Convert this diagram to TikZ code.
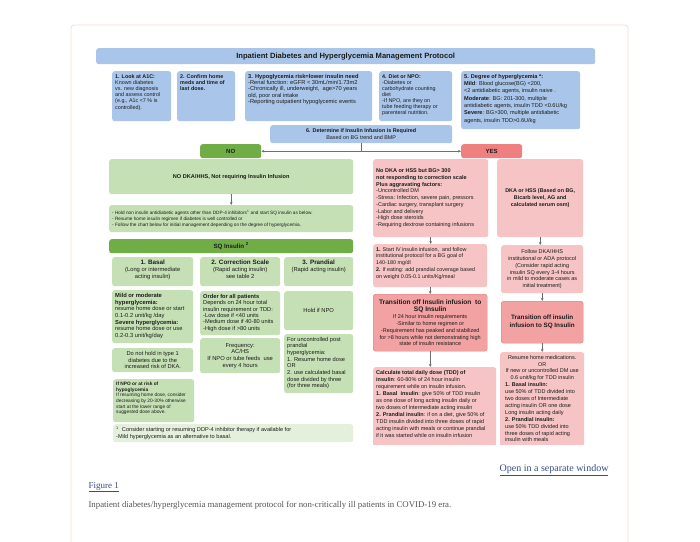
\documentclass[tikz,border=0pt]{standalone}
\usepackage{fontspec}
\setmainfont{Liberation Sans}
\newfontfamily\capfont{Liberation Serif}
\usetikzlibrary{arrows.meta}
\definecolor{myblue}{HTML}{A9C5E9}
\definecolor{lgreen}{HTML}{C5E0B4}
\definecolor{dgreen}{HTML}{70AD47}
\definecolor{fgreen}{HTML}{E4F0DB}
\definecolor{lpink}{HTML}{F6C4C4}
\definecolor{mpink}{HTML}{F2A2A2}
\definecolor{mpinkb}{HTML}{E27C7C}
\definecolor{yescol}{HTML}{EF8080}
\definecolor{arrcol}{HTML}{6F6F6F}
\definecolor{txtcol}{HTML}{1C1C1C}
\definecolor{framecol}{HTML}{F1DDD3}
\definecolor{linkcol}{HTML}{3A4A8A}
\definecolor{capcol}{HTML}{555555}
\newcommand\inbox[4]{\begin{minipage}[c][#2pt][#3]{#1pt}#4\end{minipage}}
\newcommand\fs[2]{\fontsize{#1}{#2}\selectfont}
\begin{document}
\begin{tikzpicture}[x=1pt,y=-1pt,
  basebox/.style={rounded corners=2.5pt, inner xsep=3pt, inner ysep=3pt, anchor=north west, text=txtcol},
  bluebox/.style={basebox, fill=myblue},
  greenbox/.style={basebox, fill=lgreen},
  darkgreen/.style={basebox, fill=dgreen},
  footbox/.style={basebox, fill=fgreen},
  pinkbox/.style={basebox, fill=lpink},
  pinkdark/.style={basebox, fill=mpink, draw=mpinkb, line width=0.4pt},
  yesbox/.style={basebox, fill=yescol},
  conn/.style={draw=arrcol, line width=0.5pt, -{Stealth[length=3pt,width=2.6pt]}}
]
\useasboundingbox (0,0) rectangle (700,541);
\fill[white] (0,0) rectangle (700,541);
\draw[framecol, line width=0.8pt, rounded corners=3pt] (71,545) -- (71,25) -- (628,25) -- (628,545);

\begin{scope}
\clip (80,30) rectangle (620,444);
% title
\node[bluebox] (title) at (96,48) {\inbox{493}{10}{c}{\centering\fs{7.6}{8.5}\bfseries Inpatient Diabetes and Hyperglycemia Management Protocol}};
% row 1
\node[bluebox] (b1) at (112,71) {\inbox{53}{44}{t}{\raggedright\fs{5.4}{6.2}\textbf{1. Look at A1C:}\\Known diabetes\\vs. new diagnosis\\and assess control\\(e.g., A1c <7 \% is\\controlled).}};
\node[bluebox] (b2) at (177,71) {\inbox{52}{44}{t}{\raggedright\fs{5.4}{6.2}\bfseries 2. Confirm home\\meds and time of\\last dose.}};
\node[bluebox] (b3) at (245,71) {\inbox{121}{44}{t}{\raggedright\fs{5.7}{6.3}\textbf{3. Hypoglycemia risk=lower insulin need}\\-Renal function: eGFR < 30mL/min/1.73m2\\-Chronically ill, underweight,\ \ age>70 years\\old, poor oral intake\\-Reporting outpatient hypoglycemic events}};
\node[bluebox] (b4) at (379,71) {\inbox{67}{44}{t}{\raggedright\fs{5.4}{6.1}\textbf{4. Diet or NPO:}\\-Diabetes or\\carbohydrate counting\\diet\\-If NPO, are they on\\tube feeding therapy or\\parenteral nutrition.}};
\node[bluebox] (b5) at (461,71) {\inbox{113}{52}{t}{\raggedright\fs{5.6}{7.3}\textbf{5. Degree of hyperglycemia *:}\\\textbf{Mild}: Blood glucose(BG) <200,\\<2 antidiabetic agents, insulin naive .\\\textbf{Moderate}: BG: 201-300, multiple\\antidiabetic agents, insulin TDD <0.6U/kg\\\textbf{Severe}: BG>300, multiple antidiabetic\\agents, insulin TDD>0.6U/kg}};
% decision
\node[bluebox] (b6) at (270,125) {\inbox{176}{12}{c}{\centering\fs{5.4}{6.3}\textbf{6. Determine if Insulin Infusion is Required}\\Based on BG trend and BMP}};
\node[darkgreen] (no) at (200,144) {\inbox{55}{8}{c}{\centering\fs{6}{7}\bfseries NO}};
\node[yesbox] (yes) at (461,144) {\inbox{55}{8}{c}{\centering\fs{6}{7}\bfseries YES}};
\draw[conn] (b6.south) |- (no.east);
\draw[conn] (b6.south) |- (yes.west);
% left branch
\node[greenbox] (l1) at (109,159) {\inbox{238}{29}{c}{\centering\fs{5.6}{6.5}\bfseries NO DKA/HHS, Not requiring Insulin Infusion}};
\node[greenbox] (l2) at (109,205) {\inbox{238}{21}{c}{\raggedright\fs{4.7}{6}- Hold non insulin antidiabetic agents other than DDP-4 inhibitors\textsuperscript{1} and start SQ insulin as below.\\- Resume home insulin regimen if diabetes is well controlled or\\- Follow the chart below for initial management depending on the degree of hyperglycemia.}};
\draw[conn] (l1.south) -- (l2.north);
\node[darkgreen] (sq) at (109,239) {\inbox{238}{8}{c}{\centering\fs{6.2}{7}\bfseries SQ Insulin \textsuperscript{2}}};
% columns
\node[greenbox] (c1a) at (112,257) {\inbox{75}{23}{t}{\centering\fs{5.8}{7}{\fs{6.3}{7.2}\bfseries 1. Basal}\\(Long or intermediate\\acting insulin)}};
\node[greenbox] (c2a) at (200,257) {\inbox{74}{23}{t}{\centering\fs{5.8}{7}{\fs{6.3}{7.2}\bfseries 2. Correction Scale}\\(Rapid acting insulin)\\see table 2}};
\node[greenbox] (c3a) at (284,257) {\inbox{63}{23}{t}{\centering\fs{5.8}{7}{\fs{6.3}{7.2}\bfseries 3. Prandial}\\(Rapid acting insulin)}};
\node[greenbox] (c1b) at (112,290) {\inbox{75}{47}{t}{\raggedright\fs{5.8}{6.7}\textbf{Mild or moderate\\hyperglycemia:}\\resume home dose or start\\0.1-0.2 unit/kg /day\\\textbf{Severe hyperglycemia:}\\resume home dose or use\\0.2-0.3 unit/kg/day}};
\node[greenbox] (c2b) at (200,291) {\inbox{74}{38}{t}{\raggedright\fs{5.7}{6.4}\textbf{Order for all patients}\\Depends on 24 hour total\\insulin requirement or TDD:\\-Low dose if <40 units\\-Medium dose if 40-80 units\\-High dose if >80 units}};
\node[greenbox] (c3b) at (284,291) {\inbox{63}{33}{c}{\centering\fs{5.8}{6.7}Hold if NPO}};
\node[greenbox] (c1c) at (112,348) {\inbox{75}{18}{c}{\centering\fs{5.7}{6.4}Do not hold in type 1\\diabetes due to the\\increased risk of DKA.}};
\node[greenbox] (c2c) at (200,338) {\inbox{74}{29}{c}{\centering\fs{5.8}{6.7}Frequency:\\AC/HS\\If NPO or tube feeds\ \ use\\every 4 hours}};
\node[greenbox] (c3c) at (284,334) {\inbox{63}{53}{t}{\raggedright\fs{5.7}{6.65}For uncontrolled post\\prandial\\hyperglycemia:\\1. Resume home dose\\OR\\2. use calculated basal\\dose divided by three\\(for three meals)}};
\node[greenbox] (c1d) at (113,379) {\inbox{75}{37}{t}{\raggedright\fs{4.8}{5.6}\textbf{If NPO or at risk of\\hypoglycemia}\\If resuming home dose, consider\\decreasing by 20-30\% otherwise\\start at the lower range of\\suggested dose above.}};
\node[footbox] (fn) at (113,424) {\inbox{234}{12}{c}{\raggedright\fs{5.6}{7}\textsuperscript{1}\ \ Consider starting or resuming DDP-4 inhibitor therapy if available for\\-Mild hyperglycemia as an alternative to basal.}};
% right branch
\node[pinkbox] (ra) at (373,159) {\inbox{109}{72}{c}{\raggedright\fs{5.5}{6.7}\textbf{No DKA or HSS but BG> 300\\not responding to correction scale\\Plus aggravating factors:}\\-Uncontrolled DM\\-Stress: Infection, severe pain, pressors\\-Cardiac surgery, transplant surgery\\-Labor and delivery\\-High dose steroids\\-Requiring dextrose containing infusions}};
\node[pinkbox] (rb) at (497,159) {\inbox{80}{72}{c}{\centering\fs{5.4}{6.7}\bfseries DKA or HSS (Based on BG,\\Bicarb level, AG and\\calculated serum osm)}};
\node[pinkbox] (rc) at (373,244) {\inbox{108}{37}{t}{\raggedright\fs{5.4}{6.8}\textbf{1.} Start IV insulin infusion,\ \ and follow\\institutional protocol for a BG goal of\\140-180 mg/dl\\\textbf{2.} If eating: add prandial coverage based\\on weight 0.05-0.1 units/Kg/meal}};
\node[pinkbox] (rd) at (501,245) {\inbox{76}{42}{c}{\centering\fs{5.5}{6.9}Follow DKA/HHS\\institutional or ADA protocol\\(Consider rapid acting\\insulin SQ every 3-4 hours\\in mild to moderate cases as\\initial treatment)}};
\node[pinkdark] (re) at (373,294) {\inbox{108}{51}{c}{\centering{\fs{6.6}{7.6}\bfseries Transition off Insulin infusion\ \ to\\SQ Insulin\par}\fs{5.5}{6.8}If 24 hour insulin requirements\\-Similar to home regimen or\\-Requirement has peaked and stabilized\\for >8 hours while not demonstrating high\\state of insulin resistance}};
\node[pinkdark] (rf) at (501,301) {\inbox{76}{36}{c}{\centering\fs{6.3}{7.8}\bfseries Transition off insulin\\infusion to SQ Insulin}};
\node[pinkbox] (rg) at (373,367) {\inbox{117}{79}{t}{\raggedright\fs{5.5}{7}\textbf{Calculate total daily dose (TDD) of\\insulin}: 60-80\% of 24 hour insulin\\requirement while on insulin infusion.\\\textbf{1. Basal\ \ insulin}: give 50\% of TDD insulin\\as one dose of long acting insulin daily or\\two doses of Intermediate acting insulin\\\textbf{2. Prandial insulin}: if on a diet, give 50\% of\\TDD insulin divided into three doses of rapid\\acting insulin with meals or continue prandial\\if it was started while on insulin infusion}};
\node[pinkbox] (rh) at (500,352) {\inbox{78}{94}{t}{\fs{5.5}{6.9}{\centering Resume home medications.\\OR\\If new or uncontrolled DM use\\0.6 unit/kg for TDD insulin\par}\raggedright\leftskip=2pt \textbf{1. Basal insulin:}\\use 50\% of TDD divided into\\two doses of Intermediate\\acting insulin OR one dose\\Long insulin acting daily\\\textbf{2. Prandial insulin:}\\use 50\% TDD divided into\\three doses of rapid acting\\insulin with meals}};
\draw[conn] (ra.south) -- (ra.south |- rc.north);
\draw[conn] (rb.south) -- (rb.south |- rd.north);
\draw[conn] (rc.south) -- (rc.south |- re.north);
\draw[conn] (rd.south) -- (rd.south |- rf.north);
\draw[conn] (re.south) -- (re.south |- rg.north);
\draw[conn] (rf.south) -- (rf.south |- rh.north);
\end{scope}

% caption area
\node[anchor=east, text=linkcol, font=\capfont\fs{10}{11}] (open) at (612,470) {\underline{Open in a separate window}};
\node[anchor=west, text=linkcol, font=\capfont\fs{9}{10}] (fig) at (85,487) {\underline{Figure 1}};
\node[anchor=west, text=capcol, font=\capfont\fs{8.8}{10}] (cap) at (85,505) {Inpatient diabetes/hyperglycemia management protocol for non-critically ill patients in COVID-19 era.};
\end{tikzpicture}
\end{document}
